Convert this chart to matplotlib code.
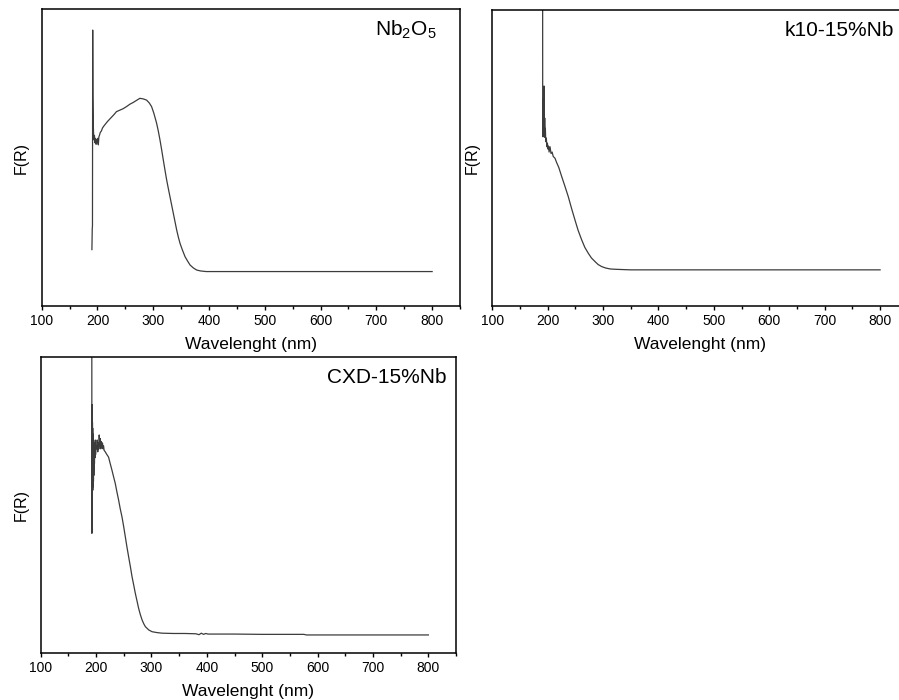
import matplotlib

matplotlib.use("Agg")

import matplotlib.pyplot as plt
from matplotlib.ticker import MultipleLocator

plt.rcParams["font.family"] = ["Liberation Sans", "DejaVu Sans"]
plt.rcParams["mathtext.fontset"] = "custom"
plt.rcParams["mathtext.rm"] = "Liberation Sans"

# Kubelka-Munk spectra, F(R) in arbitrary units (0..1 of the plot height)
nb_wl = [190, 190.6, 191.0, 191.4, 191.8, 192.3, 192.8, 193.5, 194.5, 195.5,
         196.5, 197.5, 198.5, 199.5, 200.5, 201.5, 202.5, 203.5, 205, 207,
         209, 212, 215, 218, 222, 226, 230, 234, 240, 246,
         252, 258, 264, 270, 276, 282, 288, 293, 297, 301,
         306, 309, 312, 315, 318, 321, 324, 327, 330, 333,
         336, 339, 342, 345, 348, 352, 357, 362, 366, 372,
         378, 385, 395, 410, 430, 500, 600, 700, 800]
nb_fr = [0.19, 0.26, 0.27, 0.93, 0.71, 0.63, 0.59, 0.56, 0.575, 0.55,
         0.565, 0.545, 0.56, 0.55, 0.565, 0.543, 0.57, 0.575, 0.585, 0.59,
         0.60, 0.608, 0.615, 0.622, 0.63, 0.638, 0.646, 0.655, 0.66, 0.665,
         0.672, 0.68, 0.686, 0.693, 0.70, 0.698, 0.694, 0.684, 0.672, 0.65,
         0.616, 0.59, 0.56, 0.527, 0.492, 0.458, 0.425, 0.396, 0.368, 0.34,
         0.312, 0.284, 0.256, 0.232, 0.211, 0.19, 0.166, 0.15, 0.138, 0.128,
         0.121, 0.118, 0.116, 0.116, 0.116, 0.116, 0.116, 0.116, 0.116]

k10_wl = [190.8, 191.0, 191.6, 192.2, 192.8, 193.4, 194.0, 194.6, 195.2, 195.8,
          196.5, 197.5, 198.5, 199.5, 200.5, 201.5, 202.5, 204.2, 206, 208,
          210, 213.2, 216, 220, 225.3, 231, 237.2, 243, 249.3, 255,
          261.4, 267, 273.3, 279, 285.4, 291, 297.5, 305, 313, 321.5,
          335, 350, 370, 400, 500, 600, 700, 800]
k10_fr = [1.35, 0.572, 0.70, 0.59, 0.66, 0.743, 0.57, 0.635, 0.583, 0.60,
          0.555, 0.567, 0.538, 0.55, 0.53, 0.54, 0.52, 0.538, 0.515, 0.52,
          0.505, 0.499, 0.485, 0.468, 0.437, 0.405, 0.369, 0.33, 0.29, 0.255,
          0.223, 0.198, 0.178, 0.162, 0.15, 0.14, 0.133, 0.128, 0.125, 0.124,
          0.123, 0.122, 0.122, 0.122, 0.122, 0.122, 0.122, 0.122]

cxd_wl = [192.2, 192.4, 192.6, 192.8, 193.0, 193.2, 193.4, 193.6, 193.8, 194.0,
          194.3, 194.6, 194.9, 195.2, 195.5, 195.8, 196.1, 196.4, 196.7, 197.0,
          197.5, 198.0, 198.5, 199.0, 200, 201, 202, 203, 204, 205,
          205.6, 206.5, 207.5, 208.5, 209.5, 210.5, 211.5, 212.5, 213.4, 214.5,
          216.5, 219, 222.5, 225.5, 228.6, 231.5, 234.6, 237.5, 240.6, 243.5,
          246.7, 249.5, 252.7, 255.5, 258.7, 262, 264.9, 268, 270.8, 274,
          276.8, 280, 283, 286, 289, 295, 301, 310, 319, 340,
          360, 380, 386, 390, 394, 398, 402, 420, 450, 500,
          550, 575, 580, 600, 650, 700, 750, 800]
cxd_fr = [1.35, 0.404, 0.84, 0.55, 0.80, 0.53, 0.78, 0.56, 0.76, 0.55,
          0.74, 0.57, 0.72, 0.58, 0.71, 0.60, 0.70, 0.62, 0.70, 0.64,
          0.71, 0.66, 0.72, 0.67, 0.70, 0.69, 0.72, 0.68, 0.71, 0.69,
          0.737, 0.70, 0.725, 0.69, 0.715, 0.695, 0.71, 0.69, 0.70, 0.685,
          0.68, 0.672, 0.662, 0.64, 0.618, 0.596, 0.573, 0.545, 0.517, 0.488,
          0.46, 0.43, 0.393, 0.36, 0.325, 0.29, 0.257, 0.228, 0.201, 0.174,
          0.15, 0.128, 0.111, 0.098, 0.088, 0.077, 0.071, 0.068, 0.066, 0.065,
          0.065, 0.064, 0.061, 0.066, 0.062, 0.065, 0.063, 0.063, 0.063, 0.062,
          0.062, 0.062, 0.060, 0.060, 0.060, 0.060, 0.060, 0.060]

# (axes rect, x data, y data, sample name, name x, name alignment)
panels = [
    ([0.0464, 0.5629, 0.4653, 0.4238], nb_wl, nb_fr,
     r"Nb$_\mathregular{2}$O$_\mathregular{5}$", 0.945, "right"),
    ([0.5476, 0.5629, 0.4622, 0.4229], k10_wl, k10_fr, "k10-15%Nb", 0.704, "left"),
    ([0.0453, 0.0676, 0.4620, 0.4220], cxd_wl, cxd_fr, "CXD-15%Nb", 0.976, "right"),
]

fig = plt.figure(figsize=(8.99, 7.0), dpi=100)

for rect, wl, fr, name, name_x, name_ha in panels:
    ax = fig.add_axes(rect)
    ax.plot(wl, fr, color="#3c3c3c", lw=0.9)
    ax.set_xlim(100, 850)
    ax.set_ylim(0, 1)
    ax.xaxis.set_major_locator(MultipleLocator(100))
    ax.xaxis.set_minor_locator(MultipleLocator(50))
    ax.set_xticks(range(100, 801, 100))
    ax.set_yticks([])
    ax.tick_params(axis="x", which="major", direction="out", length=3,
                   width=1.0, labelsize=10, pad=3)
    ax.tick_params(axis="x", which="minor", direction="out", length=2.5, width=1.0)
    for sp in ax.spines.values():
        sp.set_linewidth(1.1)
    ax.set_xlabel("Wavelenght (nm)", fontsize=12.5)
    ax.xaxis.set_label_coords(0.5, -0.105)
    ax.set_ylabel("F(R)", fontsize=11.5)
    ax.yaxis.set_label_coords(-0.030, 0.5)
    ax.text(name_x, 0.93, name, transform=ax.transAxes, ha=name_ha,
            va="center", fontsize=15)

fig.savefig("out.png", dpi=100)
